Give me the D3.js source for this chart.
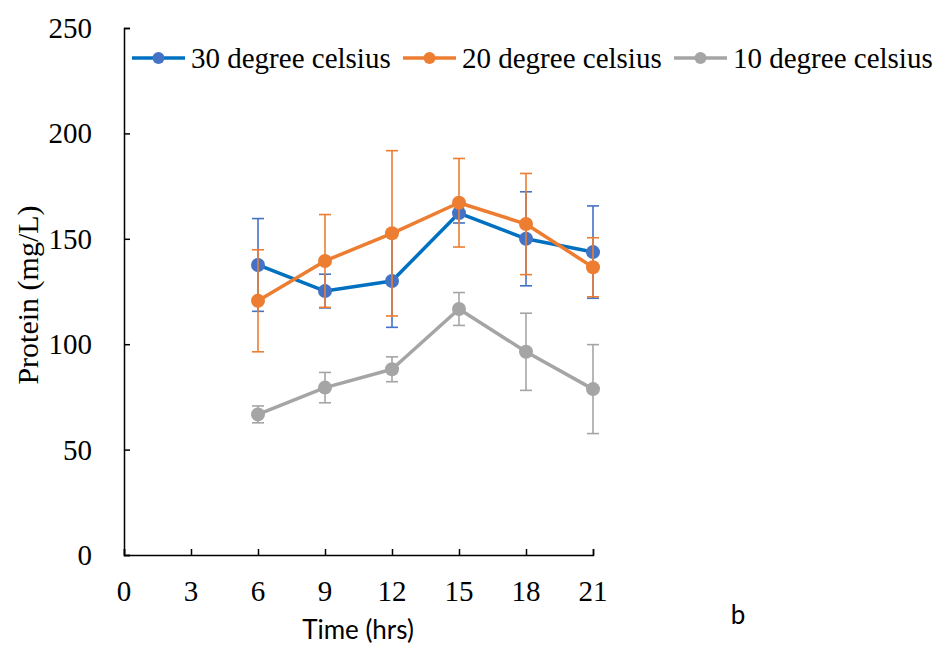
<!DOCTYPE html>
<html><head><meta charset="utf-8">
<script src="https://cdn.jsdelivr.net/npm/d3@7"></script>
<style>body{margin:0;background:#fff;} svg{display:block;}</style>
</head><body>
<script>
const times = [6, 9, 12, 15, 18, 21];
const seriesNames = ["30 degree celsius", "20 degree celsius", "10 degree celsius"];
const values30 = [137.6, 125.2, 130.0, 162.2, 150.0, 143.7];
const errors30 = [22.0, 8.0, 22.0, 4.7, 22.3, 21.9];
const values20 = [120.6, 139.5, 152.6, 167.1, 157.0, 136.5];
const errors20 = [24.2, 22.0, 39.2, 21.0, 24.0, 14.0];
const values10 = [66.7, 79.4, 88.1, 116.7, 96.4, 78.7];
const errors10 = [4.0, 7.2, 5.9, 7.8, 18.3, 21.1];
const xTicks = [0, 3, 6, 9, 12, 15, 18, 21];
const yTicks = [0, 50, 100, 150, 200, 250];

const series = [
  {name: seriesNames[0], vals: values30, errs: errors30, line: "#0070C0", mark: "#4472C4", err: "#4472C4"},
  {name: seriesNames[1], vals: values20, errs: errors20, line: "#ED7D31", mark: "#ED7D31", err: "#ED7D31"},
  {name: seriesNames[2], vals: values10, errs: errors10, line: "#A5A5A5", mark: "#A5A5A5", err: "#A5A5A5"}
];

const W = 937, H = 646;
const svg = d3.select("body").append("svg").attr("width", W).attr("height", H);
const x = d3.scaleLinear().domain([0, 21]).range([124, 593]);
const y = d3.scaleLinear().domain([0, 250]).range([555, 28]);
const serif = "Liberation Serif, Times New Roman, serif";
const sans = "Lato, Open Sans, sans-serif";

// axes
const gx = svg.append("g").attr("transform", `translate(0,${y(0)})`)
  .call(d3.axisTop(x).tickValues(xTicks).tickSize(6).tickFormat(""));
const gy = svg.append("g").attr("transform", `translate(${x(0)},0)`)
  .call(d3.axisRight(y).tickValues(yTicks).tickSize(6).tickFormat(""));
[gx, gy].forEach(g => {
  g.select(".domain").attr("stroke", "#000").attr("stroke-width", 1.5);
  g.selectAll(".tick line").attr("stroke", "#000").attr("stroke-width", 1.5);
});

svg.append("g").selectAll("text").data(xTicks).join("text")
  .attr("x", d => x(d)).attr("y", 601).attr("text-anchor", "middle")
  .attr("font-family", serif).attr("font-size", 29).text(d => d);
svg.append("g").selectAll("text").data(yTicks).join("text")
  .attr("x", 92).attr("y", d => y(d) + 10).attr("text-anchor", "end")
  .attr("font-family", serif).attr("font-size", 29).text(d => d);

svg.append("text").attr("transform", "translate(38,295) rotate(-90)")
  .attr("text-anchor", "middle").attr("font-family", serif).attr("font-size", 30)
  .text("Protein (mg/L)");
svg.append("text").attr("x", 358).attr("y", 639).attr("text-anchor", "middle")
  .attr("font-family", sans).attr("font-size", 26)
  .text("Time (hrs)");
svg.append("text").attr("x", 738).attr("y", 624).attr("text-anchor", "middle")
  .attr("font-family", sans).attr("font-size", 26)
  .text("b");

const line = d3.line().x(d => x(d.t)).y(d => y(d.v));

series.forEach(s => {
  const pts = times.map((t, i) => ({t, v: s.vals[i], e: s.errs[i]}));
  const g = svg.append("g");
  const eb = g.append("g").attr("stroke", s.err).attr("stroke-width", 1.6).attr("fill", "none");
  pts.forEach(p => {
    eb.append("line").attr("x1", x(p.t)).attr("x2", x(p.t)).attr("y1", y(p.v - p.e)).attr("y2", y(p.v + p.e));
    eb.append("line").attr("x1", x(p.t) - 6).attr("x2", x(p.t) + 6).attr("y1", y(p.v - p.e)).attr("y2", y(p.v - p.e));
    eb.append("line").attr("x1", x(p.t) - 6).attr("x2", x(p.t) + 6).attr("y1", y(p.v + p.e)).attr("y2", y(p.v + p.e));
  });
  g.append("path").datum(pts).attr("d", line).attr("fill", "none")
    .attr("stroke", s.line).attr("stroke-width", 3.5).attr("stroke-linejoin", "round");
  g.selectAll("circle").data(pts).join("circle")
    .attr("cx", d => x(d.t)).attr("cy", d => y(d.v)).attr("r", 7).attr("fill", s.mark);
});

// legend
const legX = [132, 403, 674];
const legY = 58;
series.forEach((s, i) => {
  const g = svg.append("g").attr("transform", `translate(${legX[i]},${legY})`);
  g.append("line").attr("x1", 0).attr("x2", 53).attr("y1", 0).attr("y2", 0)
    .attr("stroke", s.line).attr("stroke-width", 3.5);
  g.append("circle").attr("cx", 26.5).attr("cy", 0).attr("r", 6).attr("fill", s.mark);
  g.append("text").attr("x", 59).attr("y", 10).attr("font-family", serif)
    .attr("font-size", 29).text(s.name);
});
</script>
</body></html>
